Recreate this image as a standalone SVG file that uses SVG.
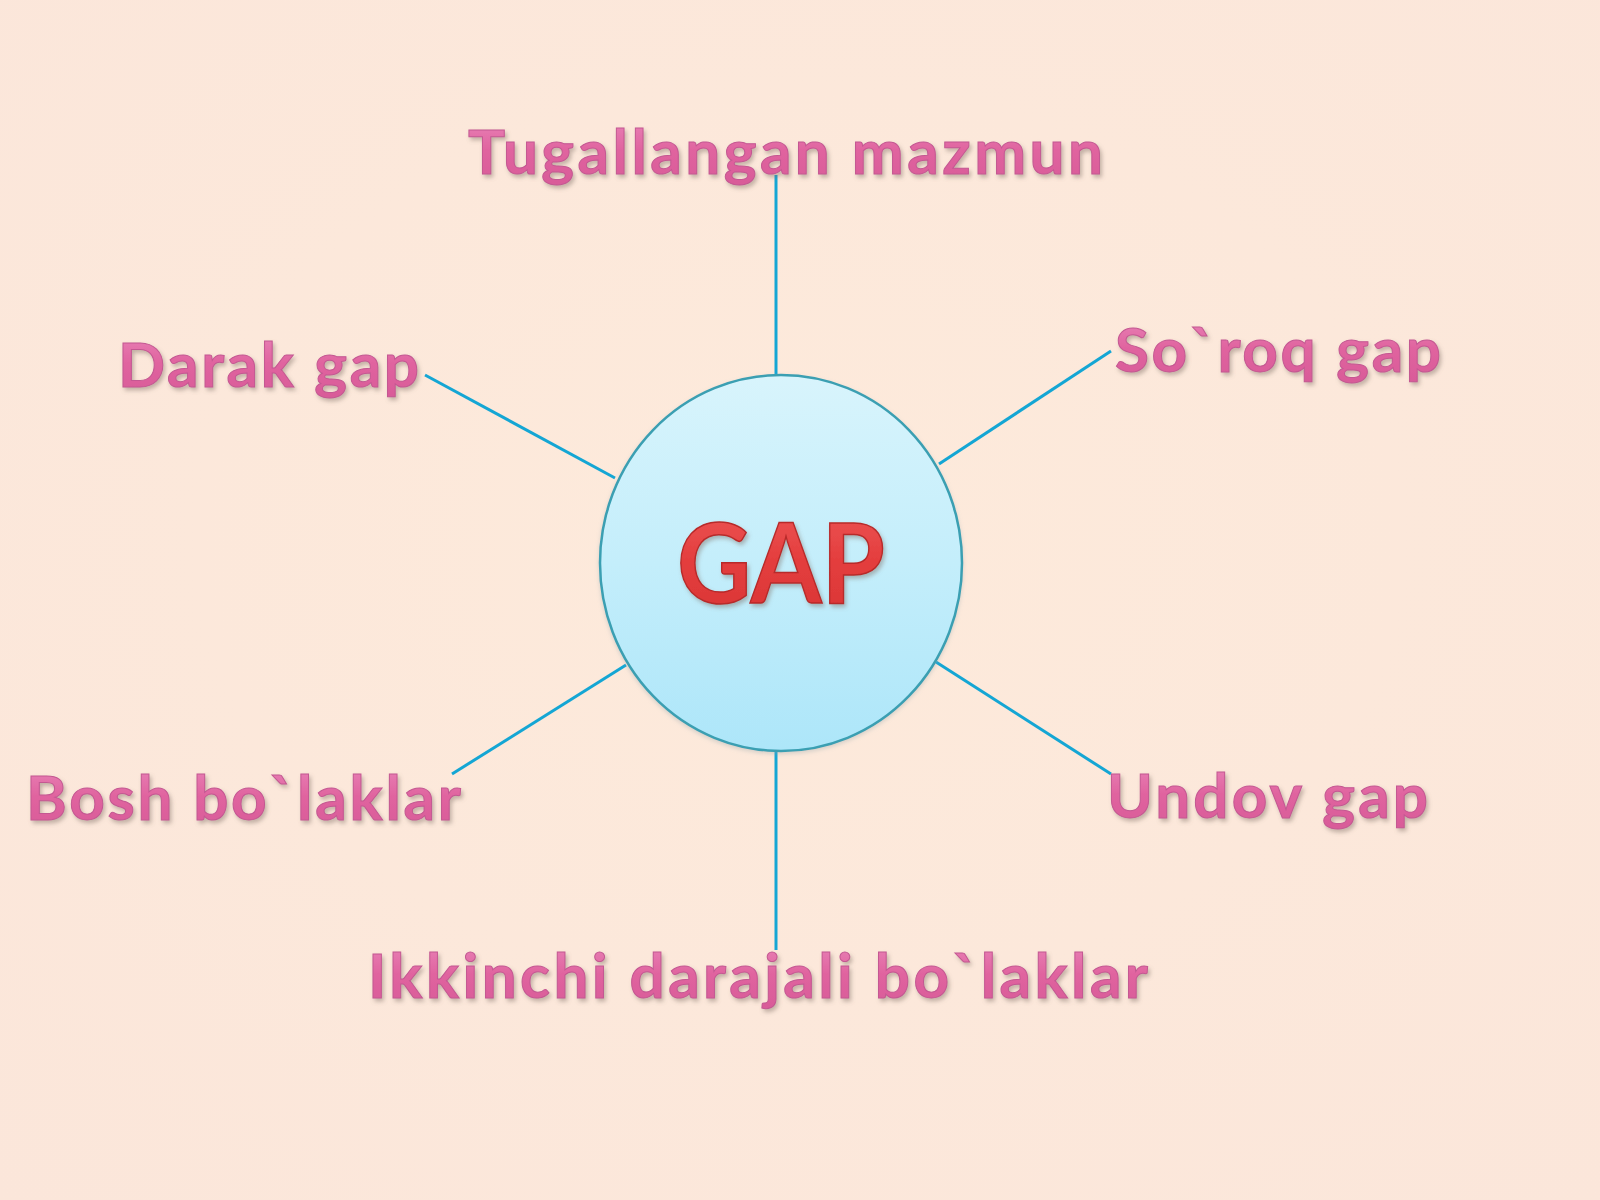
<svg xmlns="http://www.w3.org/2000/svg" width="1600" height="1200" viewBox="0 0 1600 1200">
  <defs>
    <radialGradient id="bg" cx="0.5" cy="0.45" r="0.75">
      <stop offset="0" stop-color="#fdeadb"/>
      <stop offset="1" stop-color="#fbe6da"/>
    </radialGradient>
    <linearGradient id="ball" x1="0" y1="0" x2="0" y2="1">
      <stop offset="0" stop-color="#d8f4fc"/>
      <stop offset="0.5" stop-color="#c4eefb"/>
      <stop offset="1" stop-color="#ade6f9"/>
    </linearGradient>
    <linearGradient id="pinkText" x1="0" y1="0" x2="0" y2="1">
      <stop offset="0" stop-color="#ea86bb"/>
      <stop offset="0.5" stop-color="#e0649f"/>
      <stop offset="1" stop-color="#d85a98"/>
    </linearGradient>
    <linearGradient id="redText" x1="0" y1="0" x2="0" y2="1">
      <stop offset="0" stop-color="#ee5a5a"/>
      <stop offset="0.5" stop-color="#e43e3e"/>
      <stop offset="1" stop-color="#d83434"/>
    </linearGradient>
    <filter id="shadow" x="-10%" y="-30%" width="120%" height="160%">
      <feDropShadow dx="2" dy="3" stdDeviation="2" flood-color="#7a6a60" flood-opacity="0.45"/>
    </filter>
    <filter id="ballShadow" x="-10%" y="-10%" width="120%" height="120%">
      <feDropShadow dx="0" dy="2" stdDeviation="2" flood-color="#8aa0a8" flood-opacity="0.35"/>
    </filter>
  </defs>
  <style>
    .label { font-family: Lato, "Open Sans", "Liberation Sans", sans-serif; font-weight: bold; font-size: 62px; fill: url(#pinkText); stroke: #c45892; stroke-width: 1; filter: url(#shadow); }
    .conn { stroke: #14a6d4; stroke-width: 3; fill: none; }
    .core { font-family: Lato, "Open Sans", "Liberation Sans", sans-serif; font-weight: bold; font-size: 112px; fill: url(#redText); stroke: #b82a2a; stroke-width: 1.5; filter: url(#shadow); }
  </style>

  <rect width="1600" height="1200" fill="url(#bg)"/>

  <g id="connectors">
    <line class="conn" x1="776" y1="175" x2="776" y2="375"/>
    <line class="conn" x1="776" y1="751" x2="776" y2="950"/>
    <line class="conn" x1="425" y1="375" x2="615" y2="478"/>
    <line class="conn" x1="1111" y1="351" x2="939" y2="464"/>
    <line class="conn" x1="452" y1="774" x2="626" y2="665"/>
    <line class="conn" x1="936" y1="662" x2="1111" y2="774"/>
  </g>

  <g id="center">
    <ellipse cx="781" cy="563" rx="181" ry="188" fill="url(#ball)" stroke="#3a9fb2" stroke-width="2.5" filter="url(#ballShadow)"/>
    <text class="core" x="677" y="603" textLength="208" lengthAdjust="spacingAndGlyphs">GAP</text>
  </g>

  <g id="tugallangan">
    <text class="label" x="468" y="174" textLength="635" lengthAdjust="spacing">Tugallangan mazmun</text>
  </g>
  <g id="darak">
    <text class="label" x="118" y="387" textLength="301" lengthAdjust="spacing">Darak gap</text>
  </g>
  <g id="soroq">
    <text class="label" x="1115" y="372" textLength="326" lengthAdjust="spacing">So`roq gap</text>
  </g>
  <g id="bosh">
    <text class="label" x="26" y="820" textLength="435" lengthAdjust="spacing">Bosh bo`laklar</text>
  </g>
  <g id="undov">
    <text class="label" x="1107" y="818" textLength="321" lengthAdjust="spacing">Undov gap</text>
  </g>
  <g id="ikkinchi">
    <text class="label" x="368" y="998" textLength="780" lengthAdjust="spacing">Ikkinchi darajali bo`laklar</text>
  </g>
</svg>
